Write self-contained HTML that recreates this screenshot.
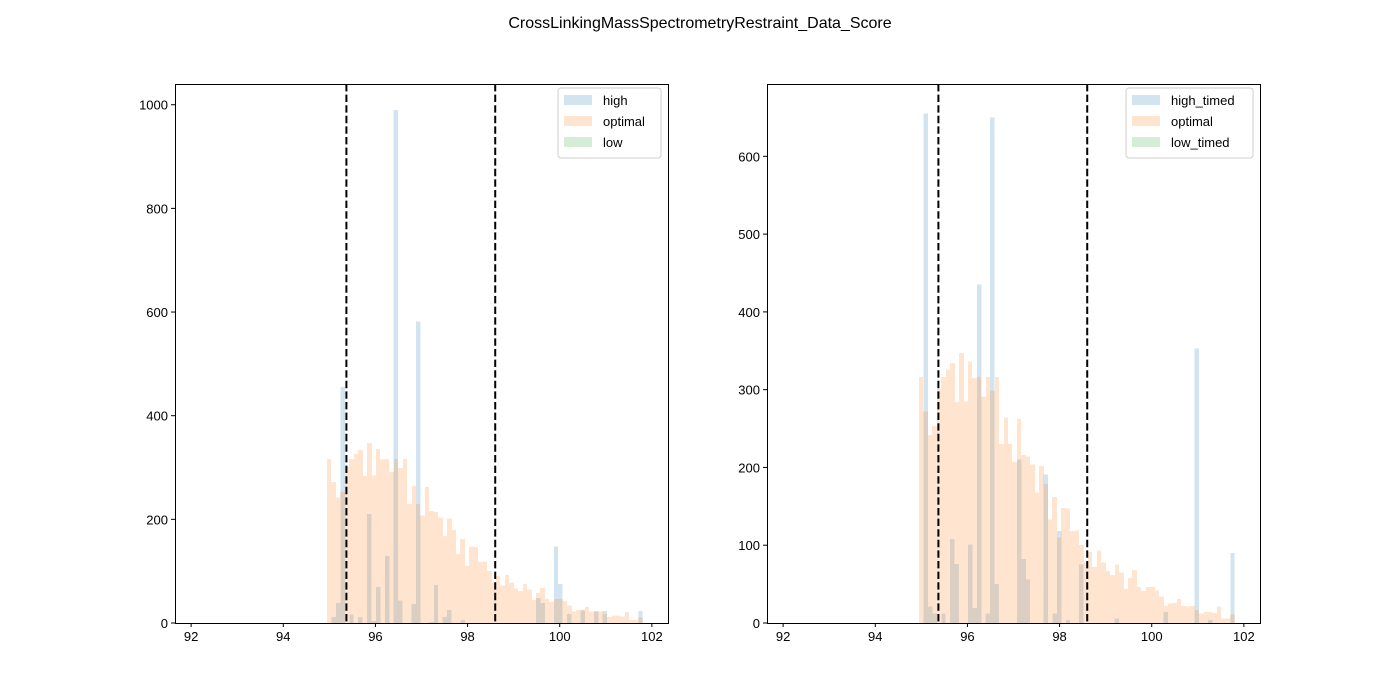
<!DOCTYPE html>
<html><head><meta charset="utf-8"><style>
body{margin:0;background:#fff;}
svg{display:block;font-family:"Liberation Sans","DejaVu Sans",sans-serif;}
</style></head><body>
<svg id="fig" width="1400" height="700">
<text x="700" y="28" text-anchor="middle" font-size="16">CrossLinkingMassSpectrometryRestraint_Data_Score</text>
</svg>
<script>
const binStart = 94.95;
const binWidth = 0.0965;
const optimalCounts = [316,272,242,253,301,316,326,334,284,347,285,336,315,316,291,316,299,316,230,264,230,207,262,216,214,204,168,202,179,133,162,110,148,147,118,119,100,78,91,72,93,78,67,62,75,65,44,58,68,46,41,46,46,42,34,22,25,26,31,22,21,22,17,12,14,14,13,21,6,6,11];
const highBins = [2,3,4,6,8,10,11,12,14,16,17,20,21,24,25,27,28,31,48,49,52,53,55,58,61,63,71];
const highCounts = [12,39,455,16,12,210,4,69,129,990,43,37,582,2,73,12,25,6,48,39,148,75,17,24,23,23,23];
const highTimedBins = [2,3,4,6,8,9,12,13,14,16,17,18,23,24,25,29,31,32,34,37,45,56,63,66,71];
const highTimedCounts = [655,21,12,12,108,76,101,19,435,12,650,50,210,82,56,191,12,118,4,75,6,14,353,4,90];
const xTicks = [92,94,96,98,100,102];
const leftYTicks = [0,200,400,600,800,1000];
const rightYTicks = [0,100,200,300,400,500,600];
const vlines = [95.37, 98.6];

const NS = "http://www.w3.org/2000/svg";
const svg = document.getElementById('fig');
function mk(tag, attrs, parent){const e=document.createElementNS(NS,tag);for(const k in attrs)e.setAttribute(k,attrs[k]);(parent||svg).appendChild(e);return e;}

function panel(name, x0, x1, yTop, yBot, ymax, yTicks, blueBins, blueCounts, labels, legX){
  const g = mk('g',{});
  
  
  const xmin=91.65, xmax=102.35;
  const sx = v => x0 + (v-xmin)/(xmax-xmin)*(x1-x0);
  const sy = v => yBot - v/ymax*(yBot-yTop);
  blueBins.forEach((b,i)=>{
    const l = binStart + (b-1)*binWidth;
    const r = mk('rect',{x:sx(l),y:sy(blueCounts[i]),width:sx(l+binWidth)-sx(l),height:yBot-sy(blueCounts[i]),fill:'#1f77b4','fill-opacity':0.2,'shape-rendering':'crispEdges'},g);
    
    
  });
  optimalCounts.forEach((c,i)=>{
    const l = binStart + i*binWidth;
    const xa = Math.round(sx(l)), xb = Math.round(sx(l+binWidth));
    const r = mk('rect',{x:xa,y:sy(c),width:xb-xa,height:yBot-sy(c),fill:'#ff7f0e','fill-opacity':0.2,'shape-rendering':'crispEdges'},g);
    
    
  });
  vlines.forEach(v=>{
    const ln = mk('line',{x1:sx(v),x2:sx(v),y1:yTop,y2:yBot,stroke:'#000','stroke-width':2,'stroke-dasharray':'7.4,3.2'},g);
    
    
  });
  const fr = mk('rect',{x:x0+0.5,y:yTop+0.5,width:x1-x0,height:yBot-yTop,fill:'none',stroke:'#000','stroke-width':1},g);
  
  
  xTicks.forEach(t=>{
    mk('line',{x1:sx(t),x2:sx(t),y1:yBot,y2:yBot+4,stroke:'#000'},g);
    const tx = mk('text',{x:sx(t),y:yBot+18,'text-anchor':'middle','font-size':13},g);
    tx.textContent=t;
    
    
  });
  yTicks.forEach(t=>{
    mk('line',{x1:x0-4,x2:x0,y1:sy(t),y2:sy(t),stroke:'#000'},g);
    const tx = mk('text',{x:x0-7,y:sy(t)+5,'text-anchor':'end','font-size':13},g);
    tx.textContent=t;
    
    
  });
  const lg = mk('g',{},g);
  
  
  const w = x1 - 7 - legX;
  mk('rect',{x:legX,y:yTop+4,width:w,height:70,rx:3,fill:'#fff',stroke:'#ccc'},lg);
  const cols=['#1f77b4','#ff7f0e','#2ca02c'];
  labels.forEach((lab,i)=>{
    const y = yTop+11+i*21;
    mk('rect',{x:legX+6,y:y,width:28,height:10,fill:cols[i],'fill-opacity':0.2},lg);
    const tx = mk('text',{x:legX+45,y:y+10,'font-size':13},lg);
    tx.textContent=lab;
    
    
  });
}
panel('left-histogram',175,668,84,623,1040,leftYTicks,highBins,highCounts,['high','optimal','low'],558);
panel('right-histogram',767,1260,84,623,693,rightYTicks,highTimedBins,highTimedCounts,['high_timed','optimal','low_timed'],1126);
</script>
</body></html>
